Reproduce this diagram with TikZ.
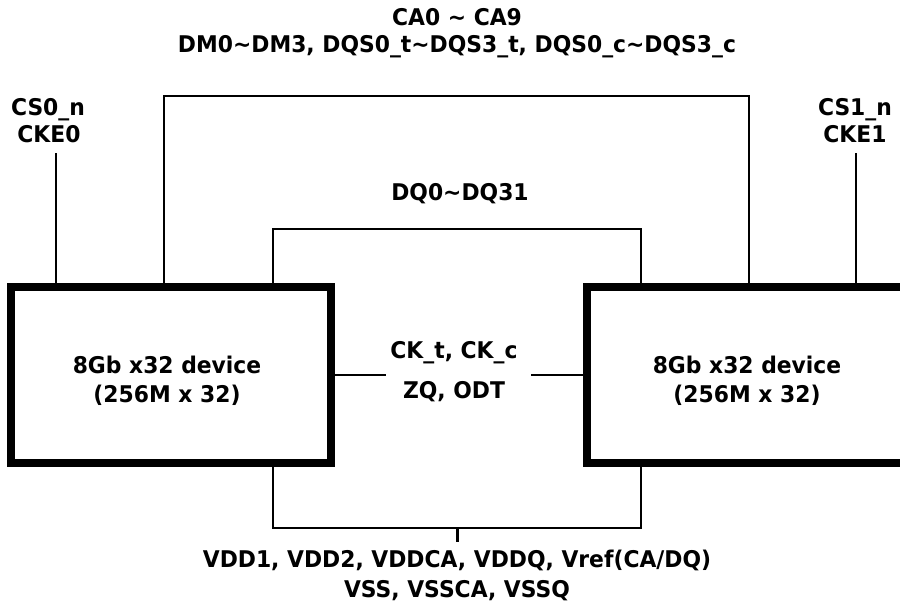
\documentclass[tikz,border=0pt]{standalone}
\usepackage{fontspec}
\newfontfamily\lbl[FakeStretch=0.95]{DejaVu Sans}
\usetikzlibrary{calc}
\begin{document}
\begin{tikzpicture}[x=1pt,y=-1pt,
  txt/.style={font=\lbl\bfseries\fontsize{23}{27}\selectfont, anchor=base, inner sep=0pt, outer sep=0pt},
  dev/.style={draw, line width=8pt, minimum width=320pt, minimum height=175.5pt, outer sep=0pt, inner sep=0pt},
  wire/.style={line width=2pt}]
\useasboundingbox (0,0) rectangle (900,604);
\clip (0,0) rectangle (900,604);
\fill[white] (0,0) rectangle (900,604);

% devices
\node[dev] (L) at (171,374.75) {};
\node[dev] (R) at (746.5,374.75) {};

% free ends
\coordinate (cs0end) at (56,153);
\coordinate (cs1end) at (856,153);
\coordinate (topca) at (457,96.5);
\coordinate (topdq) at (457,229);
\coordinate (pwr) at (457,528);
\coordinate (pwrend) at (457,542);
\coordinate (ckl) at (386,374.75);
\coordinate (ckr) at (531,374.75);

% connectors
\draw[wire] ($(L.north west)+(45,0)$) -- (cs0end);
\draw[wire] ($(R.north west)+(269.5,0)$) -- (cs1end);
\draw[wire] ($(L.north west)+(153,0)$) |- (topca) -| ($(R.north west)+(162.5,0)$);
\draw[wire] ($(L.north west)+(262,0)$) |- (topdq) -| ($(R.north west)+(54.5,0)$);
\draw[wire] ($(L.south west)+(262,0)$) |- (pwr) -| ($(R.south west)+(54.5,0)$);
\draw[line width=3pt] (pwr) -- (pwrend);
\draw[wire] (L.east) -- (ckl);
\draw[wire] (ckr) -- (R.west);

% labels
\node[txt] (ca) at (457,26) {CA0 \textasciitilde{} CA9};
\node[txt] (dm) at (457,53) {DM0\textasciitilde DM3, DQS0\_t\textasciitilde DQS3\_t, DQS0\_c\textasciitilde DQS3\_c};
\node[txt] (cs0) at (48,116) {CS0\_n};
\node[txt] (cke0) at (49,143) {CKE0};
\node[txt] (cs1) at (855,116) {CS1\_n};
\node[txt] (cke1) at (855,143) {CKE1};
\node[txt] (dq) at (460,201) {DQ0\textasciitilde DQ31};
\node[txt] (lt1) at (167,373) {8Gb x32 device};
\node[txt] (lt2) at (167,402) {(256M x 32)};
\node[txt] (rt1) at (747,373) {8Gb x32 device};
\node[txt] (rt2) at (747,402) {(256M x 32)};
\node[txt] (ck) at (454,358) {CK\_t, CK\_c};
\node[txt] (zq) at (454,398) {ZQ, ODT};
\node[txt] (v1) at (457,567) {VDD1, VDD2, VDDCA, VDDQ, Vref(CA/DQ)};
\node[txt] (v2) at (457,597) {VSS, VSSCA, VSSQ};
\end{tikzpicture}
\end{document}
